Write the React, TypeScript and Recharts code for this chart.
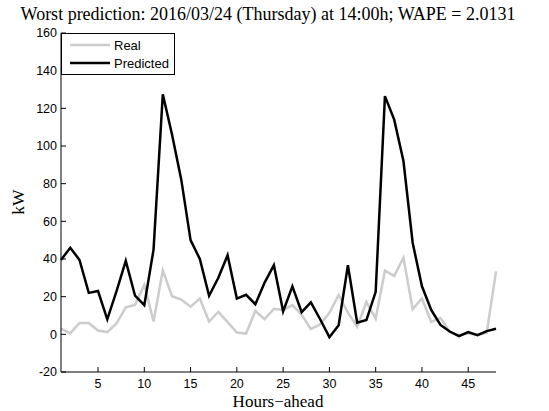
import { LineChart, Line, XAxis, YAxis, Legend } from "recharts";

const hours = [
  1, 2, 3, 4, 5, 6, 7, 8, 9, 10, 11, 12, 13, 14, 15, 16, 17, 18, 19, 20, 21, 22, 23, 24,
  25, 26, 27, 28, 29, 30, 31, 32, 33, 34, 35, 36, 37, 38, 39, 40, 41, 42, 43, 44, 45, 46, 47, 48,
];

const real = [
  3, 0.5, 6, 6, 2, 1.2, 5.8, 14.3, 15.6, 26.3, 6.8, 34, 20.2, 18.5, 14.7, 19, 6.8, 12, 6.5, 1,
  0.4, 12.4, 8, 13.5, 13, 15.5, 10.4, 2.8, 5.3, 11.4, 20.9, 11.5, 4, 17.2, 8.3, 33.8, 31, 40.7,
  13.4, 19.1, 6.6, 8.7, 1.4, -0.5, 0.5, -0.3, 0.8, 33.4,
];

const predicted = [
  39.5, 46, 39.5, 22, 23, 8, 23, 39, 20.5, 15.5, 45, 127.5, 106, 82, 50, 40, 20.5, 30, 42, 19,
  21, 16, 27.5, 36.7, 12.2, 25.5, 11.8, 17, 8, -1.5, 4.8, 36.7, 6.2, 7.6, 22.6, 126.5, 114, 92,
  48.5, 25.5, 13, 5, 1.5, -1, 1.2, -0.4, 1.7, 3,
];

const seriesOrder = ["Real", "Predicted"];
const xTicks = [5, 10, 15, 20, 25, 30, 35, 40, 45];
const yTicks = [-20, 0, 20, 40, 60, 80, 100, 120, 140, 160];

const data = hours.map((h, i) => ({ hour: h, Real: real[i], Predicted: predicted[i] }));

const sans = "'Liberation Sans', Arial, sans-serif";
const serif = "'Liberation Serif', 'Times New Roman', serif";
const tickStyle = { fontSize: 12.5, fill: "#000", fontFamily: sans };

const XTitle = () => (
  <text x={278} y={407} textAnchor="middle" fontFamily={serif} fontSize={17} fill="#000">
    Hours−ahead
  </text>
);

const YTitle = () => (
  <text
    x={24}
    y={202}
    textAnchor="middle"
    fontFamily={serif}
    fontSize={17.5}
    fill="#000"
    transform="rotate(-90 24 202)"
  >
    kW
  </text>
);

const renderLegend = (props: any) => {
  const items = [...(props.payload || [])].sort(
    (a: any, b: any) => seriesOrder.indexOf(a.value) - seriesOrder.indexOf(b.value)
  );
  return (
    <div
      style={{
        boxSizing: "border-box",
        width: 114,
        height: 42,
        border: "1px solid #000",
        background: "#fff",
        fontFamily: sans,
        fontSize: 13,
        paddingTop: 2,
      }}
    >
      {items.map((it: any) => (
        <div key={it.value} style={{ display: "flex", alignItems: "center", height: 18 }}>
          <svg width={52} height={18}>
            <line x1={8} x2={48} y1={9} y2={9} stroke={it.color} strokeWidth={2.5} />
          </svg>
          <span style={{ color: "#000" }}>{it.value}</span>
        </div>
      ))}
    </div>
  );
};

export default function App() {
  return (
    <div style={{ position: "absolute", left: 0, top: 0, width: 549, height: 411, background: "#fff" }}>
      <div
        style={{
          position: "absolute",
          left: 0,
          top: 4,
          width: 536,
          textAlign: "center",
          fontFamily: serif,
          fontSize: 18,
          lineHeight: "20px",
          color: "#000",
          whiteSpace: "nowrap",
        }}
      >
        Worst prediction: 2016/03/24 (Thursday) at 14:00h; WAPE = 2.0131
      </div>
      <LineChart
        width={549}
        height={411}
        data={data}
        margin={{ top: 33, right: 53, bottom: 0, left: 0 }}
      >
        <XAxis
          xAxisId="b"
          dataKey="hour"
          type="number"
          domain={[1, 48]}
          ticks={xTicks}
          orientation="bottom"
          height={39}
          tickSize={-5}
          tickMargin={12}
          tick={tickStyle}
          axisLine={{ stroke: "#000" }}
          tickLine={{ stroke: "#000" }}
          label={<XTitle />}
        />
        <XAxis
          xAxisId="t"
          dataKey="hour"
          type="number"
          domain={[1, 48]}
          ticks={xTicks}
          orientation="top"
          height={0}
          tickSize={-5}
          tickFormatter={() => ""}
          axisLine={{ stroke: "#000" }}
          tickLine={{ stroke: "#000" }}
        />
        <YAxis
          yAxisId="l"
          type="number"
          domain={[-20, 160]}
          ticks={yTicks}
          orientation="left"
          width={61}
          tickSize={-5}
          tickMargin={9}
          tick={tickStyle}
          axisLine={{ stroke: "#000" }}
          tickLine={{ stroke: "#000" }}
          label={<YTitle />}
        />
        <YAxis
          yAxisId="r"
          type="number"
          domain={[-20, 160]}
          ticks={yTicks}
          orientation="right"
          width={0}
          tickSize={-5}
          tickFormatter={() => ""}
          axisLine={{ stroke: "#000" }}
          tickLine={{ stroke: "#000" }}
        />
        <Legend
          layout="horizontal"
          verticalAlign="middle"
          align="center"
          content={renderLegend}
          wrapperStyle={{ left: 61, top: 33, width: 114, height: 42 }}
        />
        <Line
          xAxisId="b"
          yAxisId="l"
          dataKey="Real"
          stroke="#cccccc"
          strokeWidth={2.5}
          dot={false}
          isAnimationActive={false}
        />
        <Line
          xAxisId="b"
          yAxisId="l"
          dataKey="Predicted"
          stroke="#000"
          strokeWidth={2.5}
          dot={false}
          isAnimationActive={false}
        />
      </LineChart>
    </div>
  );
}
